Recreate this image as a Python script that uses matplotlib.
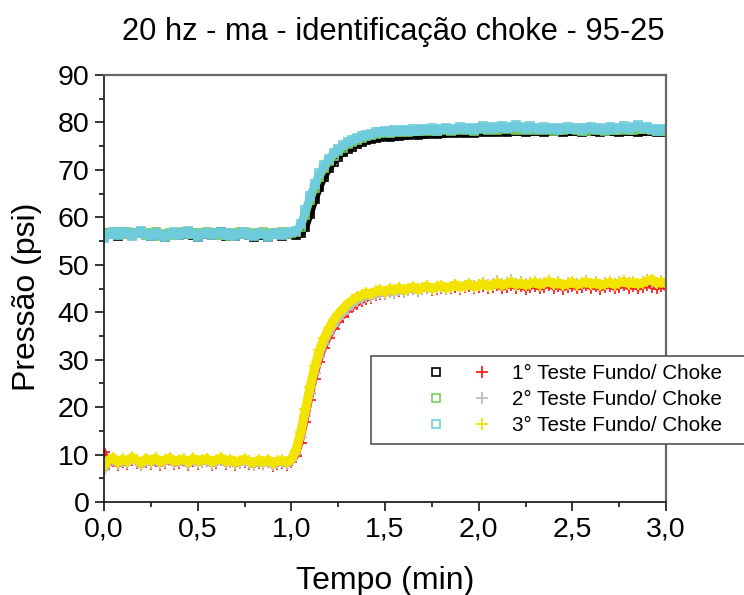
import numpy as np
import matplotlib
matplotlib.use('Agg')
import matplotlib.pyplot as plt
from matplotlib.lines import Line2D
from matplotlib.legend_handler import HandlerTuple

plt.rcParams['font.family'] = ['Liberation Sans', 'DejaVu Sans']

# amostragem a cada 0,025 min
t = np.linspace(0.0, 3.0, 121)

# pressão de fundo (psi), quadrados
fundo_1 = [56.4, 56.8, 56.5, 56.1, 56.9, 56.6, 56.2, 56.7, 57.0, 56.4, 56.0, 56.6, 56.3, 55.9, 56.4, 56.8, 56.2, 56.5, 56.9, 56.3,
           55.9, 56.4, 56.7, 56.2, 56.6, 56.9, 56.1, 56.5, 56.0, 56.4, 56.8, 56.2, 55.9, 56.5, 56.3, 55.8, 56.4, 56.7, 56.1, 56.5,
           56.8, 56.2, 56.6, 58.0, 60.8, 63.8, 66.4, 68.6, 70.3, 71.7, 72.8, 73.7, 74.4, 74.9, 75.4, 75.8, 76.2, 76.5, 76.8, 77.0,
           77.1, 76.9, 77.2, 77.1, 77.4, 77.3, 77.5, 77.4, 77.6, 77.5, 77.7, 77.6, 77.8, 77.7, 77.9, 77.7, 77.9, 77.8, 78.0, 77.8,
           78.0, 78.1, 77.9, 78.1, 78.0, 78.2, 78.0, 78.2, 78.1, 78.3, 78.0, 78.2, 78.1, 78.3, 78.0, 78.2, 78.1, 78.3, 78.0, 78.2,
           78.1, 78.3, 78.0, 78.2, 78.1, 78.3, 78.0, 78.2, 78.1, 78.3, 78.0, 78.2, 78.1, 78.3, 78.0, 78.2, 78.1, 78.3, 77.9, 78.1,
           78.0]
fundo_2 = [56.2, 56.8, 56.5, 57.0, 56.4, 56.9, 56.3, 56.7, 57.0, 56.2, 56.6, 56.9, 56.1, 56.5, 56.8, 56.3, 56.7, 57.0, 56.4, 56.8,
           56.2, 56.6, 56.9, 56.4, 56.8, 56.3, 56.7, 56.1, 56.5, 56.9, 56.4, 56.7, 56.2, 56.6, 56.9, 56.3, 56.7, 56.5, 56.9, 56.4,
           56.8, 57.0, 58.0, 60.6, 63.6, 66.2, 68.5, 70.3, 71.8, 73.0, 73.9, 74.7, 75.4, 75.9, 76.4, 76.8, 77.1, 77.3, 77.6, 77.8,
           77.9, 77.7, 78.1, 77.9, 78.2, 78.0, 78.3, 78.1, 78.4, 78.2, 78.5, 78.2, 78.4, 78.6, 78.3, 78.5, 78.7, 78.4, 78.6, 78.3,
           78.6, 78.8, 78.5, 78.7, 78.4, 78.8, 78.6, 78.9, 78.5, 78.7, 78.4, 78.8, 78.5, 78.7, 78.4, 78.6, 78.3, 78.7, 78.4, 78.6,
           78.6, 78.5, 78.3, 78.3, 78.6, 78.4, 78.4, 78.3, 78.5, 78.4, 78.4, 78.6, 78.5, 78.5, 78.7, 78.6, 78.6, 78.4, 78.2, 78.3,
           78.1]
fundo_3 = [55.6, 56.4, 56.9, 56.2, 57.0, 56.6, 56.1, 56.8, 57.2, 56.5, 56.0, 56.7, 56.3, 55.8, 56.4, 56.9, 56.2, 56.6, 57.1, 56.4,
           55.9, 56.5, 56.8, 56.3, 56.7, 57.0, 56.2, 56.6, 56.1, 56.5, 56.9, 56.3, 56.0, 56.6, 56.4, 55.9, 56.5, 56.8, 56.2, 56.7,
           57.0, 57.2, 58.5, 61.5, 64.5, 67.0, 69.3, 71.0, 72.4, 73.5, 74.4, 75.2, 75.8, 76.3, 76.8, 77.1, 77.4, 77.6, 77.9, 78.0,
           78.2, 77.9, 78.4, 78.1, 78.5, 78.2, 78.6, 78.3, 78.7, 78.4, 78.8, 78.3, 78.6, 78.9, 78.5, 78.7, 79.0, 78.6, 78.8, 78.5,
           78.9, 79.2, 78.7, 79.0, 78.8, 79.3, 78.9, 79.1, 79.4, 79.0, 78.7, 79.2, 78.9, 78.6, 79.0, 78.7, 78.9, 78.5, 78.8, 79.1,
           78.6, 78.9, 78.4, 78.8, 79.1, 78.7, 78.9, 78.5, 79.0, 78.6, 78.8, 79.2, 78.7, 79.0, 79.4, 78.9, 79.1, 78.6, 78.3, 78.7,
           78.4]

# pressão no choke (psi), cruzes
choke_1 = [10.6, 8.0, 8.6, 7.8, 8.4, 8.0, 8.8, 8.3, 7.7, 8.5, 8.1, 8.7, 7.9, 8.3, 8.8, 8.0, 8.2, 8.6, 7.8, 8.7,
           8.1, 8.4, 8.6, 7.9, 8.3, 8.8, 8.0, 8.4, 7.8, 8.2, 8.5, 8.1, 7.7, 8.3, 8.0, 8.4, 7.6, 8.1, 8.3, 7.9,
           8.4, 9.6, 12.4, 16.8, 21.5, 26.0, 29.6, 32.4, 34.6, 36.4, 37.9, 39.1, 40.2, 41.0, 41.7, 42.3, 42.8, 43.1, 43.6, 43.9,
           43.9, 44.3, 44.1, 44.5, 44.3, 44.6, 44.8, 44.4, 44.9, 45.1, 44.7, 45.0, 45.2, 44.8, 45.1, 45.4, 45.0, 45.3, 45.5, 45.1,
           45.4, 45.6, 45.2, 45.4, 45.7, 45.1, 45.4, 45.8, 45.2, 45.5, 45.0, 45.3, 45.6, 45.1, 45.4, 45.7, 45.2, 45.5, 45.0, 45.3,
           45.6, 45.1, 45.4, 45.7, 45.2, 45.5, 45.0, 45.3, 45.6, 45.1, 45.4, 45.7, 45.2, 45.5, 45.1, 45.4, 45.7, 45.4, 45.2, 45.5,
           45.1]
choke_2 = [6.8, 8.4, 8.9, 8.1, 8.6, 8.2, 9.0, 8.5, 7.9, 8.7, 8.3, 8.8, 8.1, 8.5, 8.9, 8.2, 8.4, 8.7, 8.0, 8.8,
           8.3, 8.5, 8.7, 8.1, 8.4, 8.9, 8.2, 8.5, 8.0, 8.3, 8.6, 8.2, 7.9, 8.4, 8.1, 8.5, 7.8, 8.2, 8.4, 8.0,
           8.6, 10.2, 13.6, 18.2, 22.8, 27.2, 30.6, 33.3, 35.4, 37.1, 38.5, 39.7, 40.8, 41.6, 42.3, 42.8, 43.3, 43.2, 43.8, 44.1,
           43.9, 44.3, 44.1, 44.6, 44.3, 44.7, 44.9, 44.5, 45.0, 45.2, 44.8, 45.1, 45.4, 45.0, 45.3, 45.7, 45.2, 45.6, 45.9, 45.5,
           45.8, 46.2, 45.7, 46.0, 46.5, 45.9, 46.2, 46.7, 46.0, 46.3, 45.9, 46.1, 46.4, 45.9, 46.2, 46.6, 46.0, 46.3, 45.8, 46.1,
           46.4, 45.9, 46.2, 46.5, 46.0, 46.3, 45.8, 46.1, 46.4, 45.9, 46.3, 46.6, 46.1, 46.4, 46.0, 46.3, 46.7, 46.4, 46.2, 46.5,
           46.1]
choke_3 = [7.6, 8.9, 9.3, 8.4, 9.0, 8.6, 9.4, 8.8, 8.3, 9.1, 8.7, 9.2, 8.5, 8.9, 9.3, 8.6, 8.8, 9.0, 8.4, 9.2,
           8.7, 8.9, 9.1, 8.5, 8.8, 9.3, 8.6, 8.9, 8.4, 8.7, 9.0, 8.6, 8.3, 8.8, 8.5, 8.9, 8.2, 8.6, 8.8, 8.4,
           9.0, 11.0, 14.8, 19.5, 24.2, 28.6, 32.0, 34.6, 36.6, 38.3, 39.6, 40.7, 41.8, 42.5, 43.2, 43.6, 44.1, 43.8, 44.4, 44.7,
           44.3, 44.9, 44.6, 45.1, 44.7, 45.0, 45.3, 44.8, 45.2, 45.5, 45.0, 45.3, 45.6, 45.1, 45.4, 45.8, 45.3, 45.6, 45.9, 45.4,
           45.7, 46.0, 45.5, 45.8, 46.2, 45.7, 46.0, 46.4, 45.8, 46.1, 45.7, 46.0, 46.3, 45.8, 46.1, 46.5, 45.9, 46.2, 45.7, 46.0,
           46.3, 45.8, 46.1, 46.4, 45.9, 46.2, 45.7, 46.0, 46.3, 45.8, 46.2, 46.5, 46.0, 46.3, 45.9, 46.2, 46.6, 46.9, 46.1, 46.4,
           46.0]

labels = ['1° Teste Fundo/ Choke', '2° Teste Fundo/ Choke', '3° Teste Fundo/ Choke']
cores_fundo = ['#000000', '#7ccc5a', '#6ecbdc']
cores_choke = ['#ff2020', '#bdbdbd', '#f2e400']

xticks = [0.0, 0.5, 1.0, 1.5, 2.0, 2.5, 3.0]
xtick_labels = ['0,0', '0,5', '1,0', '1,5', '2,0', '2,5', '3,0']
yticks = [0, 10, 20, 30, 40, 50, 60, 70, 80, 90]

fig = plt.figure(figsize=(7.44, 5.95), dpi=100)
ax = fig.add_axes([0.1398, 0.1563, 0.7554, 0.7176])

# faixa densa de pontos: linha grossa por baixo + marcadores
hs = []
for y, c in zip([fundo_1, fundo_2, fundo_3], cores_fundo):
    ax.plot(t, y, color=c, lw=5.5, solid_joinstyle='miter')
    h, = ax.plot(t, y, linestyle='none', marker='s', ms=6.2, mfc='none', mec=c, mew=1.2)
    hs.append(h)
hp = []
for y, c, lw in zip([choke_1, choke_2, choke_3], cores_choke, [4.0, 5.0, 6.5]):
    ax.plot(t, y, color=c, lw=lw, solid_joinstyle='miter')
    h, = ax.plot(t, y, linestyle='none', marker='+', ms=9, mec=c, mew=1.3)
    hp.append(h)

ax.set_xlim(0, 3.0)
ax.set_ylim(0, 90)
ax.set_xticks(xticks)
ax.set_xticklabels(xtick_labels)
ax.set_yticks(yticks)
ax.set_xticks([0.25, 0.75, 1.25, 1.75, 2.25, 2.75], minor=True)
ax.set_yticks([5, 15, 25, 35, 45, 55, 65, 75, 85], minor=True)
ax.tick_params(which='major', direction='out', length=6.5, width=1.1, labelsize=20.5, pad=4)
ax.tick_params(which='minor', direction='out', length=3.5, width=1.1)

for s in ['left', 'bottom']:
    ax.spines[s].set_linewidth(1.3)
    ax.spines[s].set_color('#222222')
for s in ['top', 'right']:
    ax.spines[s].set_linewidth(1.6)
    ax.spines[s].set_color('#666666')

ax.set_title('20 hz - ma - identificação choke - 95-25', fontsize=22.2, pad=25, x=0.515)
ax.set_xlabel('Tempo (min)', fontsize=23)
ax.set_ylabel('Pressão (psi)', fontsize=23)
ax.xaxis.set_label_coords(0.5, -0.15)
ax.yaxis.set_label_coords(-0.11, 0.48)

# legenda: cada linha mostra o quadrado (fundo) e a cruz (choke) do mesmo teste
vazio = Line2D([], [], linestyle='none', marker='None')
handles = [(vazio, a, b) for a, b in zip(hs, hp)]
leg = ax.legend(handles, labels,
                handler_map={tuple: HandlerTuple(ndivide=None, pad=1.15)},
                loc='upper left', mode='expand',
                bbox_to_anchor=(371 / 744, 1 - 443 / 595, 374 / 744, 87 / 595),
                bbox_transform=fig.transFigure,
                fontsize=14.9, handlelength=5.5, handletextpad=0.9,
                borderpad=0.4, labelspacing=0.34, borderaxespad=0,
                fancybox=False, framealpha=1, edgecolor='#555555')
leg.get_frame().set_linewidth(1.2)

plt.savefig('out.png', dpi=100)
